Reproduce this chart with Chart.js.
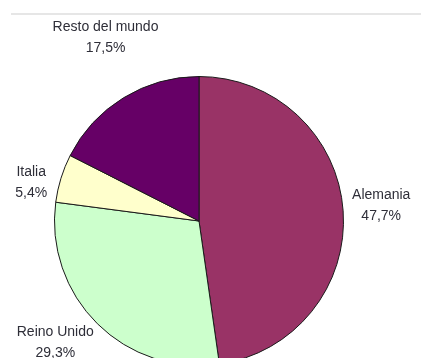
<!DOCTYPE html>
<html>
<head>
<meta charset="utf-8">
<script src="https://cdn.jsdelivr.net/npm/chart.js@4/dist/chart.umd.min.js"></script>
<style>
  html, body { margin: 0; padding: 0; background: #fff; overflow: hidden; }
  body { width: 421px; height: 358px; position: relative; }
  .rule { position: absolute; left: 11px; right: 0; top: 13px; border-top: 2px solid #e6e6e6; }
  .wrap { position: absolute; left: 0; top: 0; width: 421px; height: 380px; }
</style>
</head>
<body>
<div class="rule"></div>
<div class="wrap"><canvas id="pieChart"></canvas></div>
<script>
const countries = ['Alemania', 'Reino Unido', 'Italia', 'Resto del mundo'];
const shares = [47.7, 29.3, 5.4, 17.5];
const sliceColors = ['#993366', '#ccffcc', '#ffffcc', '#660066'];

// small hand tweaks for where each label sits, relative to its slice
const labelNudge = [[-1, -3], [-8, -1], [-5, 13], [15, -37]];

const fmt = v => v.toFixed(1).replace('.', ',') + '%';

const outsideLabels = {
    id: 'outsideLabels',
    afterDatasetsDraw(chart) {
        const ctx = chart.ctx;
        const arcs = chart.getDatasetMeta(0).data;
        ctx.save();
        ctx.font = '14px "Liberation Sans", Arial, sans-serif';
        ctx.fillStyle = '#2e2e38';
        ctx.textAlign = 'center';
        ctx.textBaseline = 'middle';
        arcs.forEach((arc, i) => {
            const mid = (arc.startAngle + arc.endAngle) / 2;
            const dx = Math.cos(mid), dy = Math.sin(mid);
            const name = chart.data.labels[i];
            const value = fmt(chart.data.datasets[0].data[i]);
            const halfW = Math.max(ctx.measureText(name).width, ctx.measureText(value).width) / 2;
            const halfH = 17.5;
            const r = arc.outerRadius + 10;
            const cx = arc.x + dx * r + dx * halfW + labelNudge[i][0];
            const cy = arc.y + dy * r + dy * halfH + labelNudge[i][1];
            ctx.fillText(name, cx, cy - 10.5);
            ctx.fillText(value, cx, cy + 10.5);
        });
        ctx.restore();
    }
};

new Chart(document.getElementById('pieChart'), {
    type: 'pie',
    data: {
        labels: countries,
        datasets: [{
            data: shares,
            backgroundColor: sliceColors,
            borderColor: '#1a1a1a',
            borderWidth: 1
        }]
    },
    options: {
        responsive: true,
        maintainAspectRatio: false,
        animation: false,
        layout: {
            padding: { left: 54, right: 77, top: 76, bottom: 14 }
        },
        plugins: {
            legend: { display: false },
            tooltip: { enabled: false }
        }
    },
    plugins: [outsideLabels]
});
</script>
</body>
</html>
